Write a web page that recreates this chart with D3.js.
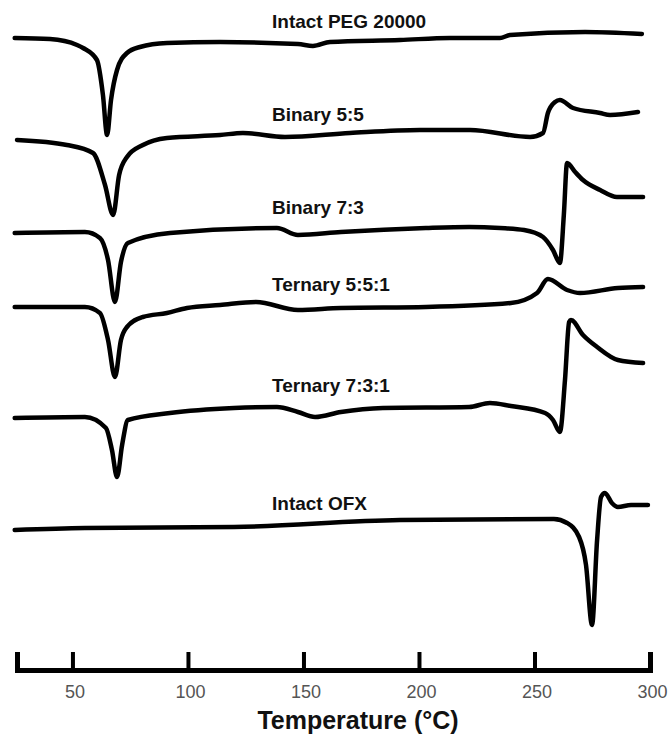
<!DOCTYPE html>
<html>
<head>
<meta charset="utf-8">
<script src="https://cdn.jsdelivr.net/npm/d3@7/dist/d3.min.js"></script>
<style>
body { margin: 0; background: #fff; }
</style>
</head>
<body>
<div id="mainDiv"></div>
<script>
'use strict';

//nomes das curvas (de cima para baixo)
var names = ['Intact PEG 20000', 'Binary 5:5', 'Binary 7:3', 'Ternary 5:5:1', 'Ternary 7:3:1', 'Intact OFX'];

//[temperatura (°C), fluxo de calor empilhado (u.a.)]
var peg = [[25,63.2],[40.3,63.1],[52,62.5],[54.6,62.2],[60.6,61.0],[63.2,57.5],[65,53.5],[66.7,57.0],[69.3,60.0],
  [73.6,61.7],[79.2,62.3],[90.9,62.7],[113.9,62.8],[147.6,62.6],[154.1,62.4],[161.5,62.8],[191.8,63.0],
  [213.4,63.2],[235.1,63.2],[239.4,63.5],[271.9,63.8],[296.5,63.6]];

var bin55 = [[26,53.0],[47.6,52.5],[58.9,51.7],[64.1,48.5],[67.6,45.5],[70.2,49.5],[73.6,51.3],[80.5,52.5],
  [90.9,53.2],[113.9,53.5],[123.8,53.7],[142,53.3],[170.1,53.7],[200.4,54.0],[222.1,54.0],[248.1,53.3],
  [253.7,53.7],[255.8,55.7],[258.9,56.8],[261,57.0],[266.7,56.2],[278.4,55.7],[282.7,55.5],[294.8,55.8]];

var bin73 = [[25,43.7],[55.4,43.8],[61.9,43.2],[65.4,41.0],[68.4,36.8],[71,40.8],[74,42.7],[92.2,43.7],
  [138.5,44.2],[147.6,43.5],[166.2,43.8],[203,44.2],[221.7,44.3],[235.1,44.2],[245.5,44.0],[253.7,43.3],
  [258,42.0],[261,40.7],[262.7,45.5],[264.1,50.7],[267.6,49.8],[271,49.0],[278.4,48.0],[285.7,47.3],[297,47.3]];

var ter551 = [[25,36.3],[55.4,36.3],[61.9,35.7],[65.4,33.0],[68.4,29.3],[71,33.0],[73.6,34.3],[80.5,35.3],
  [90.9,35.7],[99.6,36.2],[113.9,36.5],[129.5,36.8],[147.6,36.0],[166.2,36.2],[203,36.3],[239.8,36.7],
  [251.1,37.7],[255.8,39.1],[264.1,38.0],[269.7,37.7],[286.1,38.2],[297,38.3]];

var ter731 = [[25,25.2],[55.4,25.3],[64.5,24.2],[67.1,22.0],[69.3,19.3],[71.5,22.5],[74,25.0],[92.2,25.7],
  [119.9,26.2],[138.5,26.3],[147.6,25.8],[155,25.3],[166.2,25.8],[184.4,26.2],[221.7,26.3],[230.7,26.7],
  [239.8,26.4],[254.6,25.7],[258,25.0],[261,23.8],[263.2,29.0],[265,34.8],[265.8,35.0],[271,33.5],
  [277.1,32.3],[286.1,31.0],[297,30.7]];

var ofx = [[25,14.0],[55.4,14.2],[119.9,14.3],[191.8,15.0],[258.4,15.1],[264.1,14.7],[269.3,13.3],[272.3,10.5],
  [274.9,4.5],[277.1,13.0],[278.8,17.3],[280.5,17.7],[283.5,16.7],[286.1,16.3],[291.8,16.5],[299.1,16.5]];

var series = [peg, bin55, bin73, ter551, ter731, ofx];

//ticks do eixo x
var xTicks = [50, 100, 150, 200, 250, 300];
var xDomain = [26, 300];
var yDomain = [0, 67];
var labelTemp = 140;   //temperatura onde o nome fica acima da curva
var xTitle = 'Temperature (\u00B0C)';

var dsc = {};

//dimensões
dsc.w = 668;
dsc.h = 735;
dsc.axisY = 670;
dsc.font = 'Arial, "Liberation Sans", Helvetica, sans-serif';

dsc.xScale = d3.scaleLinear().domain(xDomain).range([17, 650]);
dsc.yScale = d3.scaleLinear().domain(yDomain).range([dsc.axisY, 0]);

dsc.appendSvg = function(div)
{
    var svg = d3.select(div).append('svg')
        .attr('width', dsc.w)
        .attr('height', dsc.h);

    return svg;
}

dsc.appendCurves = function(svg)
{
    var line = d3.line()
        .x(function(d){ return dsc.xScale(d[0]); })
        .y(function(d){ return dsc.yScale(d[1]); })
        .curve(d3.curveMonotoneX);

    svg.append('g')
        .attr('class', 'curves')
        .selectAll('path')
        .data(series)
        .enter()
        .append('path')
        .attr('d', line)
        .attr('fill', 'none')
        .attr('stroke', '#000')
        .attr('stroke-width', 4.5)
        .attr('stroke-linejoin', 'round')
        .attr('stroke-linecap', 'round');
}

dsc.addLabels = function(svg)
{
    //valor da curva na temperatura do rótulo
    function levelAt(s)
    {
        var i = d3.bisector(function(d){ return d[0]; }).left(s, labelTemp);
        var a = s[i - 1], b = s[i];
        var t = (labelTemp - a[0]) / (b[0] - a[0]);
        return a[1] + t * (b[1] - a[1]);
    }

    svg.append('g')
        .selectAll('text')
        .data(names)
        .enter()
        .append('text')
        .attr('x', 272)
        .attr('y', function(d, i){ return dsc.yScale(levelAt(series[i])) - 22; })
        .attr('dominant-baseline', 'central')
        .style('font-family', dsc.font)
        .style('font-weight', 'bold')
        .style('font-size', '19px')
        .style('fill', '#111')
        .text(function(d){ return d; });
}

dsc.createAxis = function(svg)
{
    var axis = d3.axisBottom(dsc.xScale)
        .tickValues(xTicks)
        .tickSizeInner(-18)
        .tickSizeOuter(-18);

    var g = svg.append('g')
        .attr('class', 'xAxis')
        .attr('transform', 'translate(0,' + dsc.axisY + ')')
        .call(axis);

    g.select('.domain')
        .attr('stroke', '#000')
        .attr('stroke-width', 5);

    g.selectAll('.tick line')
        .attr('stroke', '#000')
        .attr('stroke-width', 4);

    g.selectAll('.tick text')
        .attr('y', 22)
        .attr('dy', '0.35em')
        .attr('x', 2)
        .style('font-family', dsc.font)
        .style('font-size', '18px')
        .style('fill', '#555');

    svg.append('text')
        .attr('x', 358)
        .attr('y', 720)
        .attr('text-anchor', 'middle')
        .attr('dominant-baseline', 'central')
        .style('font-family', dsc.font)
        .style('font-weight', 'bold')
        .style('font-size', '25px')
        .style('fill', '#111')
        .text(xTitle);
}

dsc.run = function()
{
    var svg = dsc.appendSvg('#mainDiv');
    dsc.appendCurves(svg);
    dsc.addLabels(svg);
    dsc.createAxis(svg);
}

window.onload = dsc.run;
</script>
</body>
</html>
